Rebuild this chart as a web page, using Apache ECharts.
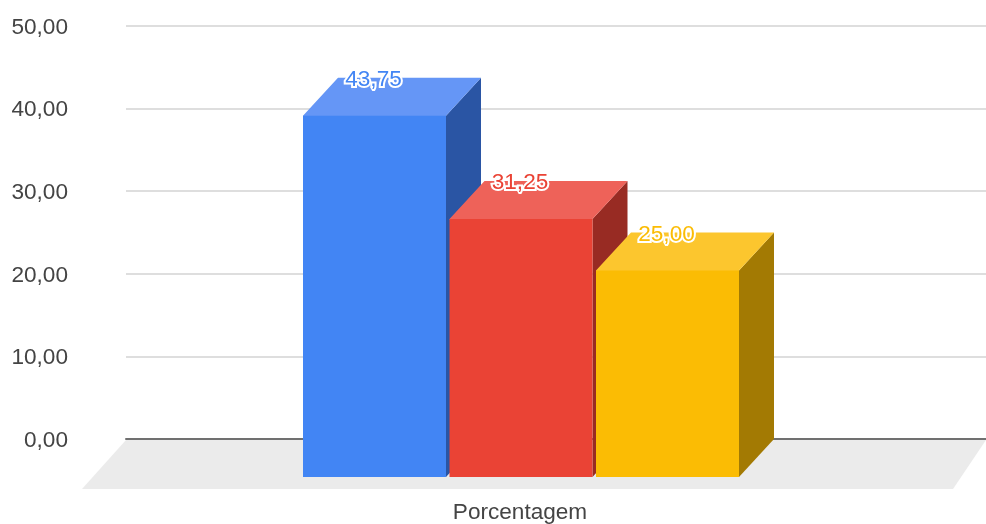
<!DOCTYPE html>
<html>
<head>
<meta charset="utf-8">
<style>
html,body{margin:0;padding:0;background:#fff}
#c{width:986px;height:524px;filter:blur(0.7px)}
</style>
<script src="https://cdn.jsdelivr.net/npm/echarts@6/dist/echarts.min.js"></script>
</head>
<body>
<div id="c"></div>
<script>
const categories = ['Porcentagem'];
const blueValues = [43.75];
const redValues = [31.25];
const yellowValues = [25.00];
const seriesValues = [blueValues, redValues, yellowValues];
const frontColors = ['#4285f4', '#ea4335', '#fbbc04'];
const topColors = ['#6596f6', '#ee6259', '#fcc62e'];
const sideColors = ['#2a55a4', '#982b23', '#a37a03'];
const FONT = '"Liberation Sans", Arial, sans-serif';
const DX = 35, DY = 38, BAR_W = 143, PITCH = 146.5;
const fmt = v => v.toFixed(2).replace('.', ',');

function barSeries(idx) {
  return {
    type: 'custom',
    z: 5 + idx,
    clip: false,
    silent: true,
    data: seriesValues[idx].map((v, i) => [i, v]),
    renderItem(params, api) {
      const v = api.value(1);
      const p = api.coord([api.value(0), v]);
      const base = api.coord([api.value(0), 0]);
      const l = p[0] - DX + (idx - 1) * PITCH - BAR_W / 2;
      const r = l + BAR_W;
      const yt = p[1] + DY, yb = base[1] + DY;
      const poly = (points, fill) => ({ type: 'polygon', shape: { points }, style: { fill } });
      return {
        type: 'group',
        children: [
          poly([[r, yt], [r + DX, yt - DY], [r + DX, yb - DY], [r, yb]], sideColors[idx]),
          poly([[l, yt + 1], [l, yt], [l + DX, yt - DY], [r + DX, yt - DY], [r, yt], [r, yt + 1]], topColors[idx]),
          poly([[l, yt], [r, yt], [r, yb], [l, yb]], frontColors[idx]),
          {
            type: 'text',
            x: (l + r) / 2 - 1,
            y: p[1] + 2,
            style: {
              text: fmt(v),
              fill: frontColors[idx],
              stroke: '#ffffff',
              lineWidth: 4,
              font: '22.6px ' + FONT,
              align: 'center',
              verticalAlign: 'middle'
            }
          }
        ]
      };
    }
  };
}

const floorSeries = {
  type: 'custom',
  z: 1,
  clip: false,
  silent: true,
  data: [[0, 0]],
  renderItem(params, api) {
    const o = api.coord([0, 0]);
    const half = api.size([1, 0])[0] / 2;
    const y = o[1] + 1;
    return {
      type: 'polygon',
      shape: { points: [[o[0] - half, y], [o[0] + half, y], [o[0] + half - 33, y + 49], [o[0] - half - 44, y + 49]] },
      style: { fill: '#ebebeb' }
    };
  }
};

const chart = echarts.init(document.getElementById('c'));
chart.setOption({
  animation: false,
  backgroundColor: '#ffffff',
  grid: { left: 126, right: 0, top: 26, bottom: 85 },
  xAxis: {
    type: 'category',
    data: categories,
    axisLine: { show: true, lineStyle: { color: '#707070', width: 2 } },
    axisTick: { show: false },
    axisLabel: { margin: 62, color: '#444444', fontSize: 22.6, fontFamily: FONT, padding: [0, 72, 0, 0] },
    splitLine: { show: false }
  },
  yAxis: {
    type: 'value',
    min: 0,
    max: 50,
    interval: 10,
    axisLine: { show: false },
    axisTick: { show: false },
    axisLabel: { margin: 58, color: '#444444', fontSize: 22.6, fontFamily: FONT, formatter: fmt, lineHeight: 27, verticalAlign: 'top', padding: [-12, 0, 0, 0] },
    splitLine: { lineStyle: { color: '#dedede', width: 2 } }
  },
  series: [floorSeries, barSeries(0), barSeries(1), barSeries(2)]
});
</script>
</body>
</html>
